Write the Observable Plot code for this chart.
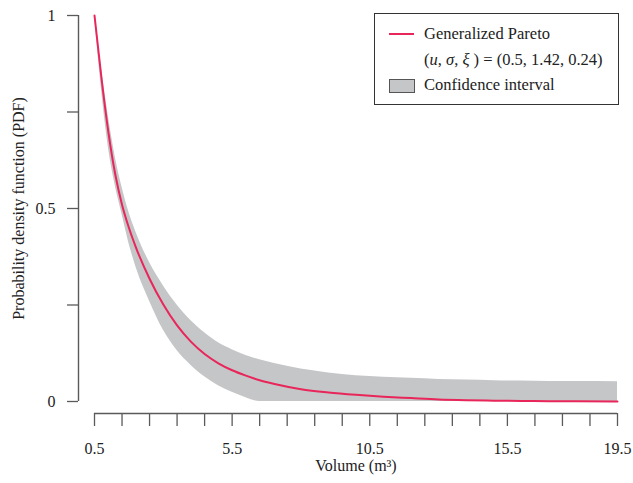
<!DOCTYPE html>
<html>
<head>
<meta charset="utf-8">
<script src="https://cdn.jsdelivr.net/npm/d3@7"></script>
<script src="https://cdn.jsdelivr.net/npm/@observablehq/plot@0.6"></script>
<style>
  html, body { margin: 0; padding: 0; background: #fff; }
  #chart { position: relative; width: 633px; height: 483px; font-family: "Liberation Serif", serif; color: #222; }
  .legend { position: absolute; left: 374px; top: 13px; width: 245px; height: 92px; box-sizing: border-box;
            border: 1px solid #333; background: #fff; font-size: 16.5px; }
  .legend .row { position: absolute; left: 49px; white-space: nowrap; line-height: 1; }
  .legend .line { position: absolute; left: 14px; top: 19px; width: 25px; height: 2px; background: #e8265a; }
  .legend .box { position: absolute; left: 14px; top: 65px; width: 24px; height: 12px; background: #c5c6c8; border: 1px solid #555; }
</style>
</head>
<body>
<div id="chart">
  <div class="legend">
    <div class="line"></div>
    <div class="row" style="top:12px">Generalized Pareto</div>
    <div class="row" style="top:38px">(<i>u</i>, <i>σ</i>, <i>ξ</i> ) = (0.5, 1.42, 0.24)</div>
    <div class="box"></div>
    <div class="row" style="top:63px">Confidence interval</div>
  </div>
</div>
<script>
// Volume grid (m³) and the fitted density with its confidence band
const volume = [0.5, 0.75, 1, 1.25, 1.5, 1.75, 2, 2.5, 3, 3.5, 4, 4.5, 5, 5.5, 6, 6.5, 7, 8, 9, 10, 11, 12, 13, 14, 15, 16, 17, 18, 19.5];
const pdf    = [1.0, 0.84, 0.70, 0.59, 0.51, 0.45, 0.40, 0.318, 0.251, 0.197, 0.155, 0.123, 0.099, 0.081, 0.067, 0.055, 0.046, 0.032, 0.0235, 0.0174, 0.0125, 0.0089, 0.0055, 0.0035, 0.0022, 0.0014, 0.0009, 0.0006, 0.0003];
const upper  = [1.0, 0.865, 0.74, 0.635, 0.555, 0.49, 0.44, 0.36, 0.30, 0.25, 0.21, 0.178, 0.152, 0.134, 0.119, 0.108, 0.099, 0.084, 0.074, 0.067, 0.063, 0.060, 0.057, 0.0555, 0.054, 0.053, 0.052, 0.0515, 0.051];
const lower  = [1.0, 0.81, 0.66, 0.56, 0.485, 0.41, 0.35, 0.26, 0.185, 0.132, 0.094, 0.064, 0.041, 0.024, 0.010, 0, 0, 0, 0, 0, 0, 0, 0, 0, 0, 0, 0, 0, 0];

// Axis ticks and labels
const xDomain = [0.5, 19.5];
const yDomain = [0, 1];
const xTicks = d3.range(0.5, 19.51, 1);
const xLabeled = [0.5, 5.5, 10.5, 15.5, 19.5];
const yTicks = [0, 0.25, 0.5, 0.75, 1];
const yLabeled = [0, 0.5, 1];
const xTitle = "Volume (m³)";
const yTitle = "Probability density function (PDF)";

const rows = volume.map((v, i) => ({volume: v, pdf: pdf[i], lo: lower[i], hi: upper[i]}));

const axisColor = "#5a5a5a";

const chart = Plot.plot({
  width: 633,
  height: 483,
  marginLeft: 94,
  marginRight: 16,
  marginTop: 15,
  marginBottom: 82,
  style: {fontFamily: "'Liberation Serif', serif", fontSize: "16px", background: "white", color: "#222"},
  x: {domain: xDomain},
  y: {domain: yDomain},
  marks: [
    Plot.areaY(rows, {x: "volume", y1: "lo", y2: "hi", fill: "#c5c6c8", curve: "monotone-x"}),
    Plot.lineY(rows, {x: "volume", y: "pdf", stroke: "#e8265a", strokeWidth: 2, curve: "monotone-x"}),
    // detached axis lines, offset from the plotting area
    Plot.ruleX([xDomain[0]], {dx: -16, stroke: axisColor, strokeWidth: 1.4}),
    Plot.ruleY([yDomain[0]], {dy: 12, stroke: axisColor, strokeWidth: 1.4}),
    Plot.axisY({ticks: yTicks, tickSize: 11, tickPadding: 12, dx: -16, stroke: axisColor, strokeWidth: 1.3,
      fill: "#222", fontSize: 16, label: null,
      tickFormat: d => yLabeled.includes(d) ? String(d) : ""}),
    Plot.axisX({ticks: xTicks, tickSize: 13, tickPadding: 16, dy: 12, stroke: axisColor, strokeWidth: 1.3,
      fill: "#222", fontSize: 16, label: null,
      tickFormat: d => xLabeled.includes(d) ? d.toFixed(1) : ""}),
    Plot.text([xTitle], {frameAnchor: "bottom", lineAnchor: "middle", textAnchor: "middle", dy: 64, fill: "#222", fontSize: 16}),
    Plot.text([yTitle], {frameAnchor: "left", lineAnchor: "middle", textAnchor: "middle", dx: -76, rotate: -90, fill: "#222", fontSize: 16})
  ]
});

document.getElementById("chart").prepend(chart);
</script>
</body>
</html>
